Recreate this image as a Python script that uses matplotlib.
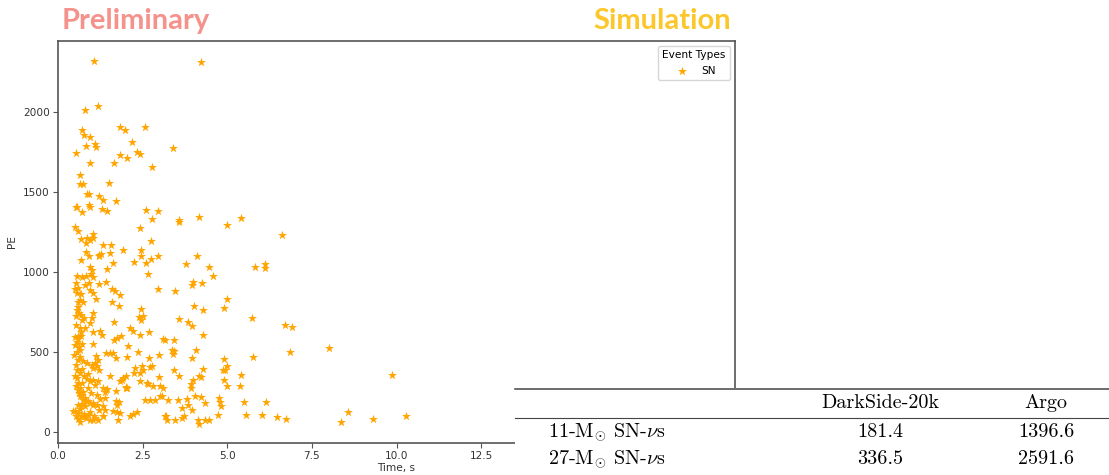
import matplotlib
matplotlib.use("Agg")
import matplotlib.pyplot as plt
from matplotlib.ticker import MultipleLocator

# ---- scatter data (SN events) ----
time_s = [
    1.06, 4.23, 0.79, 1.19, 0.70, 0.77, 0.94, 0.83, 1.09, 1.13, 0.52, 0.94, 1.84, 1.98, 2.56, 2.20,
    2.34, 2.43, 1.84, 2.04, 1.64, 3.41, 2.77, 0.65, 0.66, 0.75, 1.50, 0.86, 0.93, 1.21, 1.33, 1.71,
    0.52, 0.57, 0.72, 0.93, 0.95, 1.30, 1.44, 2.60, 2.95, 2.78, 3.56, 3.58, 4.18, 4.99, 5.42, 6.63,
    0.51, 0.59, 1.02, 2.41, 0.67, 0.86, 0.96, 1.02, 2.74, 1.34, 1.57, 1.91, 2.45, 0.83, 1.27, 1.55,
    0.67, 0.93, 1.22, 1.46, 1.63, 2.24, 2.45, 2.59, 2.76, 2.95, 3.78, 4.10, 4.46, 5.81, 6.12, 6.12,
    0.94, 0.99, 0.82, 1.21,
    2.65, 4.59, 0.55, 0.70, 0.84, 0.98, 1.03, 0.52, 0.59, 0.49, 0.79, 0.92, 0.96, 1.21, 1.41, 4.00,
    3.95, 4.26,
    2.94, 3.46, 1.02, 1.11, 0.64, 0.74, 0.59, 1.61, 1.68, 1.83, 1.61, 5.00, 0.68, 0.55,
    1.79, 0.56, 0.62, 0.54, 0.67, 0.72, 0.77, 1.04, 0.99, 2.45, 2.50, 2.45, 4.02, 4.27, 4.91, 5.72,
    3.58, 2.38, 0.60,
    0.94, 1.64, 0.64, 0.69, 0.59, 1.04, 1.23, 1.31, 2.14, 2.22, 2.42, 2.69, 3.84, 3.96, 4.27, 6.71,
    6.92, 0.52, 0.80,
    1.65, 1.75, 1.87, 2.07, 1.04, 0.51, 0.56, 0.62, 0.67, 0.71, 0.64, 3.11, 3.17, 3.44, 3.36, 3.44,
    4.09, 6.84, 8.02, 0.50, 0.58,
    0.55, 0.66, 1.43, 1.53, 1.63, 1.12, 1.19, 1.71, 2.04, 2.37, 2.69, 2.99, 3.41, 3.96, 4.91, 4.98,
    5.75, 0.52, 0.99, 1.14, 2.79, 2.71, 2.47, 0.48, 0.60, 0.75, 0.85, 1.08,
    0.55, 0.64, 0.57, 1.04, 1.22, 1.53, 1.92, 2.00, 2.42, 2.50, 2.42, 2.97, 0.50, 0.59, 1.04, 1.19,
    4.88, 4.93, 3.44, 3.56, 4.29, 4.17, 4.22, 4.00, 3.92, 4.91, 5.40, 9.88, 2.27, 2.24, 1.83, 1.89,
    0.70, 0.78, 0.90, 0.94, 0.72, 0.85, 2.62,
    0.54, 0.66, 1.09, 1.34, 1.43, 2.67, 2.81, 3.01, 1.71, 2.02, 3.92, 4.98, 5.38, 3.09, 3.06, 2.57,
    2.71, 2.86, 3.01, 0.64, 0.74, 4.06, 4.21, 4.77, 1.45, 1.38, 1.39, 1.14, 0.98, 1.23, 2.00, 2.05,
    0.60, 0.62, 0.70, 0.75, 0.80, 0.88,
    0.84, 0.94, 0.59, 0.69, 0.79, 1.04, 1.34, 1.38, 1.71, 1.81, 1.73, 1.63, 1.73, 1.83, 0.50, 0.60,
    0.53, 0.69, 1.34, 2.12, 2.22, 2.32, 3.19, 3.25, 3.55, 3.80, 3.85, 4.35, 3.65, 3.95, 4.79, 4.81,
    5.49, 6.14, 3.17, 3.72, 4.74, 5.55, 6.02, 8.58, 10.28, 1.02, 1.14, 1.21, 0.90, 0.78, 0.88, 0.66,
    0.45, 0.72, 0.95,
    0.84, 0.94, 1.04, 0.64, 1.78, 3.21, 3.45, 3.66, 4.14, 4.17, 4.34, 4.47, 6.48, 6.74, 8.37, 9.30,
    1.07, 1.19, 1.10, 1.32, 0.75, 0.58,
]
pe = [
    2322, 2312, 2012, 2040, 1890, 1858, 1842, 1785, 1800, 1781, 1744, 1681, 1904, 1889, 1908, 1815,
    1752, 1734, 1728, 1715, 1681, 1776, 1653, 1605, 1548, 1548, 1557, 1487, 1487, 1477, 1448, 1443,
    1408, 1403, 1377, 1415, 1405, 1392, 1378, 1386, 1381, 1333, 1312, 1322, 1343, 1293, 1334, 1228,
    1283, 1257, 1236, 1277, 1207, 1214, 1200, 1212, 1195, 1168, 1168, 1137, 1135, 1124, 1114, 1117,
    1077, 1100, 1105, 1020, 1058, 1062, 1096, 1054, 1079, 1100, 1048, 1096, 1029, 1029, 1048, 1024,
    1033, 1012, 1180, 1096,
    986, 971, 975, 965, 975, 985, 965, 929, 898, 892, 919, 929, 888, 923, 939, 939,
    919, 929,
    892, 883, 867, 829, 825, 814, 814, 892, 877, 856, 814, 829, 860, 870,
    783, 762, 742, 721, 731, 700, 710, 742, 710, 767, 721, 696, 787, 758, 773, 710,
    704, 717, 780,
    679, 683, 650, 625, 600, 621, 631, 606, 648, 627, 606, 621, 689, 662, 606, 669,
    654, 670, 650,
    575, 585, 596, 537, 548, 590, 560, 527, 596, 548, 510, 579, 575, 573, 512, 502,
    508, 500, 523, 540, 580,
    498, 467, 492, 492, 494, 471, 450, 460, 467, 496, 462, 481, 487, 458, 454, 408,
    467, 419, 415, 408, 408, 404, 412, 480, 450, 440, 430, 430,
    387, 367, 335, 398, 383, 350, 335, 346, 367, 387, 314, 339, 346, 304, 325, 315,
    387, 383, 387, 346, 392, 350, 342, 325, 300, 321, 352, 355, 398, 367, 317, 325,
    390, 350, 360, 320, 305, 330, 304,
    283, 273, 294, 273, 262, 300, 283, 283, 252, 279, 273, 287, 283, 273, 221, 200,
    196, 200, 221, 221, 200, 225, 217, 210, 267, 246, 210, 231, 242, 204, 275, 271,
    260, 240, 230, 250, 210, 270,
    190, 179, 169, 158, 163, 169, 158, 137, 190, 183, 169, 127, 121, 115, 127, 117,
    100, 100, 96, 96, 112, 125, 100, 196, 196, 204, 169, 179, 148, 133, 183, 158,
    185, 185, 100, 96, 106, 106, 106, 123, 95, 179, 169, 137, 190, 110, 105, 140,
    130, 170, 125,
    85, 75, 71, 58, 75, 71, 71, 83, 71, 50, 75, 75, 89, 78, 60, 77,
    96, 71, 88, 96, 92, 80,
]

# ---- axis tick values ----
x_ticks = [0.0, 2.5, 5.0, 7.5, 10.0, 12.5]
y_ticks = [0, 500, 1000, 1500, 2000]

# ---- table data ----
table_cols = ["DarkSide-20k", "Argo"]
table_rows = [r"11-$\mathrm{M}_{\odot}$ SN-$\nu$s", r"27-$\mathrm{M}_{\odot}$ SN-$\nu$s"]
darkside_vals = ["181.4", "336.5"]
argo_vals = ["1396.6", "2591.6"]

plt.rcParams["mathtext.fontset"] = "cm"

W, H = 1109, 475
fig = plt.figure(figsize=(W / 100, H / 100), dpi=100)

ax = fig.add_axes([58 / W, 1 - 443 / H, 677 / W, 402 / H])
ax.scatter(time_s, pe, marker="*", s=46, color="orange", label="SN", linewidths=0)
ax.set_xlim(0, 20)
ax.set_ylim(-71, 2444)
ax.set_xticks(x_ticks)
ax.set_yticks(y_ticks)
ax.tick_params(labelsize=7.6, labelcolor="#333333", color="#555555", length=3.5, pad=2.5)
ax.set_xlabel("Time, s", fontsize=7.6, color="#333333", labelpad=1.5)
ax.set_ylabel("PE", fontsize=7.6, color="#333333")
for sp in ax.spines.values():
    sp.set_color("#555555")
    sp.set_linewidth(1.2)
ax.legend(title="Event Types", loc="upper right", fontsize=7.6, title_fontsize=7.6)

fig.text(62 / W, 1 - 21 / H, "Preliminary", family="Lato", weight="bold",
         fontsize=21, color="#f4928b", ha="left", va="center")
fig.text(731 / W, 1 - 21 / H, "Simulation", family="Lato", weight="bold",
         fontsize=21, color="#fcc72b", ha="right", va="center")

# ---- table overlay ----
tax = fig.add_axes([515 / W, 0, 594 / W, 87 / H])
tax.set_zorder(5)
tax.set_xlim(0, 1)
tax.set_ylim(0, 1)
tax.set_xticks([])
tax.set_yticks([])
for sp in tax.spines.values():
    sp.set_visible(False)
tax.patch.set_facecolor("white")
tax.axhline(0.985, color="#444444", lw=1.1, clip_on=False)
tax.axhline(0.655, color="#444444", lw=0.8, clip_on=False)

fs = 14.5
col_x = [0.6145, 0.894]
tax.text(col_x[0], 0.828, table_cols[0], family="cmr10", fontsize=fs, ha="center", va="center")
tax.text(col_x[1], 0.828, table_cols[1], family="cmr10", fontsize=fs, ha="center", va="center")
row_y = [0.494, 0.184]
for i in range(2):
    tax.text(0.056, row_y[i], table_rows[i], family="cmr10", fontsize=fs, ha="left", va="center")
    tax.text(col_x[0], row_y[i], darkside_vals[i], family="cmr10", fontsize=fs, ha="center", va="center")
    tax.text(col_x[1], row_y[i], argo_vals[i], family="cmr10", fontsize=fs, ha="center", va="center")

fig.savefig("out.png", dpi=100)
